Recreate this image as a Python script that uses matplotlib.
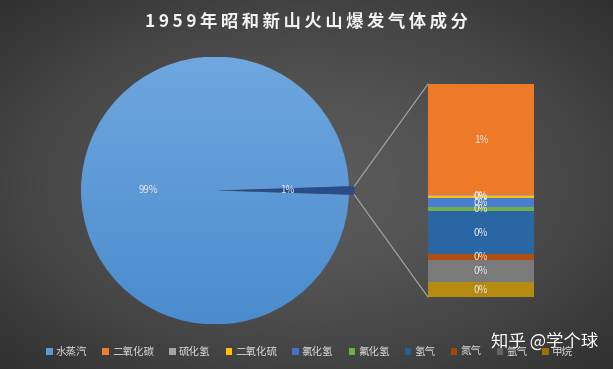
import numpy as np
import matplotlib
matplotlib.use('Agg')
import matplotlib.pyplot as plt
from matplotlib.patches import ConnectionPatch, Patch
from matplotlib.colors import LinearSegmentedColormap

plt.rcParams['font.family'] = ['Noto Sans CJK SC', 'DejaVu Sans']

title = '1959年昭和新山火山爆发气体成分'
gases = ['水蒸汽', '二氧化碳', '硫化氢', '二氧化硫', '氯化氢', '氟化氢', '氢气', '氮气', '氩气', '甲烷']
percent = [98.986, 0.53, 0.005, 0.007, 0.045, 0.019, 0.205, 0.028, 0.105, 0.07]
legend_colors = ['#5B9BD5', '#ED7D31', '#A5A5A5', '#FFC000', '#4472C4', '#70AD47',
                 '#255E91', '#9E480E', '#636363', '#997300']
bar_colors = ['#5B9BD5', '#EE7A28', '#A5A5A5', '#FFC000', '#4A7DD0', '#70AD47',
              '#2A66A3', '#B04E10', '#7A7A7A', '#B48A10']
other_color = '#2A4D8A'
watermark = '知乎 @学个球'

W, H = 613, 369
fig = plt.figure(figsize=(W / 100, H / 100), dpi=100)

# background radial gradient
ax_bg = fig.add_axes([0, 0, 1, 1], zorder=-10)
yy, xx = np.mgrid[0:1:200j, 0:1:300j]
d = np.sqrt(((xx - 0.5) / 0.5) ** 2 + ((yy - 0.5) / 0.5) ** 2) / np.sqrt(2)
val = 0.355 - 0.17 * d ** 1.6
rgb = np.dstack([val, val, val])
ax_bg.imshow(rgb, extent=(0, 1, 0, 1), aspect='auto', origin='lower')
ax_bg.set_axis_off()

# pie
total = sum(percent)
others = sum(percent[1:])
theta = 360.0 * others / total
explode_r = 0.04
cx, cy, r = 215, 190.5, 134
ax_p = fig.add_axes([(cx - r) / W, (H - cy - r) / H, 2 * r / W, 2 * r / H])
wedges, texts, autotexts = ax_p.pie(
    [percent[0], others], startangle=theta / 2, colors=['#5B9BD5', other_color],
    explode=[0, explode_r], autopct=lambda p: '%.0f%%' % p, pctdistance=0.5,
    textprops=dict(color='#E8E8E8', fontsize=7))
for t in autotexts:
    t.set_zorder(10)
grad = LinearSegmentedColormap.from_list('g', ['#4A8CCE', '#6FA7DE'])
img = np.linspace(0, 1, 256).reshape(-1, 1)
im = ax_p.imshow(img, cmap=grad, extent=(-1, 1, -1, 1), origin='lower', aspect='auto', zorder=1)
im.set_clip_path(wedges[0])
wedges[0].set_facecolor('none')
wedges[0].set_edgecolor('none')
wedges[1].set_zorder(2)
wedges[1].set_edgecolor('none')
ax_p.set_xlim(-1, 1)
ax_p.set_ylim(-1, 1)
ax_p.set_axis_off()
for w in wedges:
    w.set_clip_on(False)

# bar of others
ax_b = fig.add_axes([428 / W, 72 / H, 106 / W, 213 / H])
bottom = 0.0
for name, v, c in list(zip(gases[1:], percent[1:], bar_colors[1:]))[::-1]:
    ax_b.bar(0, v, bottom=bottom, width=1.0, color=c, linewidth=0)
    ax_b.text(0, bottom + v / 2, '%.0f%%' % (v / total * 100), ha='center', va='center',
              fontsize=7, color='#E8E8E8')
    bottom += v
ax_b.set_xlim(-0.5, 0.5)
ax_b.set_ylim(0, bottom)
ax_b.set_axis_off()

# connector lines
h = np.radians(theta / 2)
for sgn, yb in [(1, bottom), (-1, 0)]:
    con = ConnectionPatch(xyA=(explode_r + np.cos(h), sgn * np.sin(h)), coordsA=ax_p.transData,
                          xyB=(-0.5, yb), coordsB=ax_b.transData, color='#A8A8A8', lw=0.8)
    fig.add_artist(con)

# title
fig.text(0.5, 1 - 22 / H, '\u2009'.join(title), ha='center', va='center', fontsize=12.5,
         fontweight='bold', color='#F2F2F2')

# legend
handles = [Patch(facecolor=c, edgecolor='none') for c in legend_colors]
fig.legend(handles, gases, loc='center', bbox_to_anchor=(0.505, 1 - 352 / H), ncol=10,
           frameon=False, fontsize=7.6, handlelength=0.6, handleheight=0.6,
           handletextpad=0.3, columnspacing=1.45, labelcolor='#D9D9D9')

fig.text(545 / W, 1 - 342 / H, watermark, ha='center', va='center', fontsize=12.5, color='white')

fig.savefig('out.png', dpi=100)
